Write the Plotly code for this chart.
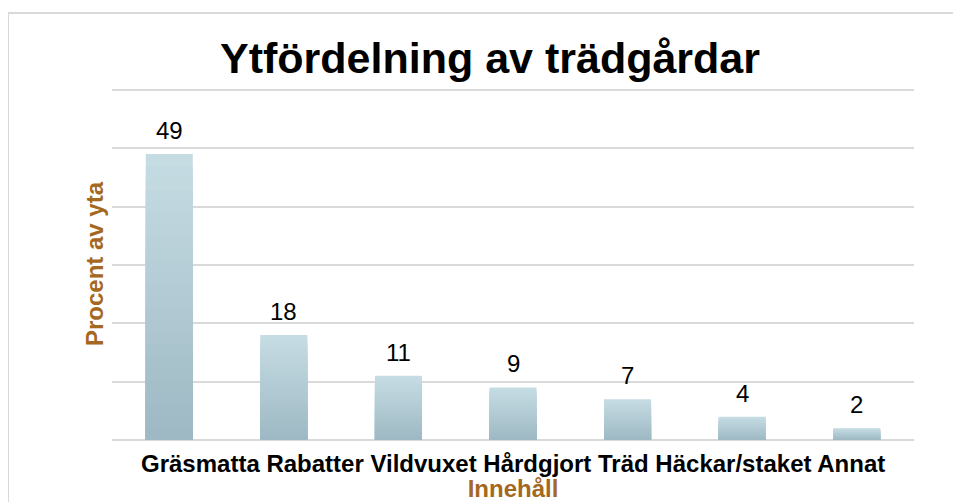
import plotly.graph_objects as go

categories = ["Gräsmatta", "Rabatter", "Vildvuxet", "Hårdgjort", "Träd", "Häckar/staket", "Annat"]
values = [49, 18, 11, 9, 7, 4, 2]

title_text = "Ytfördelning av trädgårdar"
x_title = "Innehåll"
y_title = "Procent av yta"

FONT = "Liberation Sans, Arial, sans-serif"
BROWN = "#A5681F"
GRID = "#D9D9D9"
TOP = (198, 220, 227)
BOTTOM = (158, 185, 196)
N = 24

W, H = 953, 494

fig = go.Figure()
for k in range(N, 0, -1):
    frac = k / N
    t = (k - 1) / (N - 1)
    c = tuple(round(BOTTOM[i] + (TOP[i] - BOTTOM[i]) * t) for i in range(3))
    fig.add_trace(go.Bar(
        x=categories,
        y=[v * frac for v in values],
        marker=dict(color="rgb(%d,%d,%d)" % c, line=dict(width=0)),
        width=0.41,
        hoverinfo="skip",
        showlegend=False,
    ))

for cat, v in zip(categories, values):
    fig.add_annotation(
        x=cat, y=v, text=str(v), showarrow=False,
        yanchor="bottom", yshift=8,
        font=dict(family=FONT, size=24, color="#000000"),
    )

# category labels set as one line, as in the original
fig.add_annotation(
    xref="paper", yref="paper", x=0.5, y=0, xanchor="center", yanchor="top",
    yshift=-9, showarrow=False, borderpad=0,
    text="<b>%s</b>" % " ".join(categories),
    font=dict(family=FONT, size=24, color="#000000"),
)

fig.add_shape(type="rect", xref="paper", yref="paper",
              x0=-0.1297, x1=1.2, y0=-0.4, y1=1.213,
              line=dict(color=GRID, width=2), fillcolor="rgba(0,0,0,0)", layer="below")

fig.update_layout(
    width=W, height=H,
    margin=dict(l=104, r=47, t=80, b=62),
    paper_bgcolor="white", plot_bgcolor="white",
    barmode="overlay",
    title=dict(text="<b>%s</b>" % title_text, x=482 / W, xref="container", xanchor="center",
               y=1 - 50 / H, yref="container", yanchor="middle",
               font=dict(family=FONT, size=43, color="#000000")),
    font=dict(family=FONT),
    xaxis=dict(
        showticklabels=False,
        showline=False, showgrid=False, ticks="",
        automargin=False,
        title=dict(text="<b>%s</b>" % x_title, standoff=45,
                   font=dict(family=FONT, size=24, color=BROWN)),
    ),
    yaxis=dict(
        range=[0, 60.3], dtick=10, showticklabels=False,
        showgrid=True, gridcolor=GRID, gridwidth=2,
        zeroline=True, zerolinecolor=GRID, zerolinewidth=2,
        showline=False, ticks="",
        automargin=False,
        title=dict(text="<b>%s</b>" % y_title, standoff=0,
                   font=dict(family=FONT, size=24, color=BROWN)),
    ),
)

fig.write_html("out.html")
